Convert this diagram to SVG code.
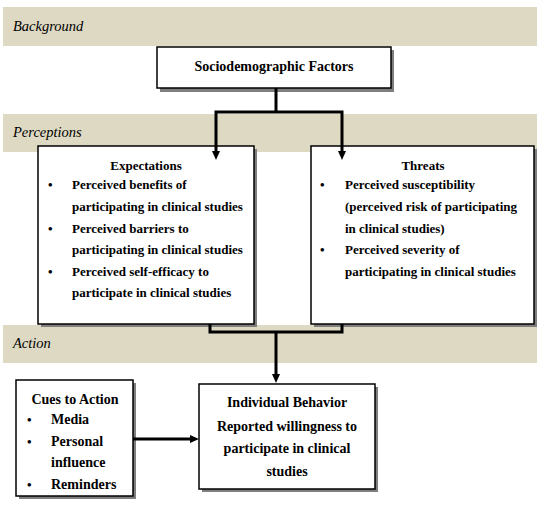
<svg xmlns="http://www.w3.org/2000/svg" width="550" height="506" viewBox="0 0 550 506">
<style>
.band{fill:#ddd9c3}
.shadow{fill:#7f7f7f}
.box{fill:#fff;stroke:#000;stroke-width:1.5}
text{font-family:"Liberation Serif","Times New Roman",serif;fill:#000}
.t{font-weight:bold;font-size:13px}
.h{font-weight:bold;font-size:14px}
.c{text-anchor:middle}
.lbl{font-style:italic;font-size:14.5px}
.conn{fill:none;stroke:#000;stroke-width:3}
</style>
<defs>
<marker id="arr" markerUnits="userSpaceOnUse" markerWidth="9" markerHeight="8" viewBox="0 0 9 8" refX="2" refY="4" orient="auto">
<path d="M0,0 L9,4 L0,8 z" fill="#000"/>
</marker>
</defs>
<rect width="550" height="506" fill="#fff"/>
<g id="bands">
<rect class="band" x="3" y="7" width="534" height="39"/>
<rect class="band" x="3" y="114" width="534" height="38"/>
<rect class="band" x="3" y="325" width="534" height="38"/>
<text class="lbl" x="13" y="31">Background</text>
<text class="lbl" x="13" y="137">Perceptions</text>
<text class="lbl" x="13" y="348">Action</text>
</g>
<g id="socio">
<rect class="shadow" x="160" y="50" width="234" height="42"/>
<rect class="box" x="157" y="47" width="234" height="41"/>
<text class="h c" x="274" y="71">Sociodemographic Factors</text>
</g>
<g id="expectations">
<rect class="shadow" x="41" y="149" width="216" height="178"/>
<rect class="box" x="38" y="146" width="216" height="178"/>
<text class="t c" x="146" y="170">Expectations</text>
<text class="t" x="48" y="189">•</text>
<text class="t" x="72" y="189">Perceived benefits of</text>
<text class="t" x="72" y="211">participating in clinical studies</text>
<text class="t" x="48" y="233">•</text>
<text class="t" x="72" y="233">Perceived barriers to</text>
<text class="t" x="72" y="254">participating in clinical studies</text>
<text class="t" x="48" y="276">•</text>
<text class="t" x="72" y="276">Perceived self-efficacy to</text>
<text class="t" x="72" y="297">participate in clinical studies</text>
</g>
<g id="threats">
<rect class="shadow" x="314" y="149" width="223" height="178"/>
<rect class="box" x="311" y="146" width="223" height="178"/>
<text class="t c" x="423" y="170">Threats</text>
<text class="t" x="320" y="189">•</text>
<text class="t" x="345" y="189">Perceived susceptibility</text>
<text class="t" x="345" y="211">(perceived risk of participating</text>
<text class="t" x="345" y="233">in clinical studies)</text>
<text class="t" x="320" y="254">•</text>
<text class="t" x="345" y="254">Perceived severity of</text>
<text class="t" x="345" y="276">participating in clinical studies</text>
</g>
<g id="cues">
<rect class="shadow" x="19" y="383" width="117" height="116"/>
<rect class="box" x="16" y="380" width="117" height="116"/>
<text class="h c" x="75" y="404">Cues to Action</text>
<text class="t" x="27" y="424">•</text>
<text class="h" x="51" y="424">Media</text>
<text class="t" x="27" y="446">•</text>
<text class="h" x="51" y="446">Personal</text>
<text class="h" x="51" y="467">influence</text>
<text class="t" x="27" y="489">•</text>
<text class="h" x="51" y="489">Reminders</text>
</g>
<g id="behavior">
<rect class="shadow" x="202" y="387" width="176" height="105"/>
<rect class="box" x="199" y="384" width="176" height="105"/>
<text class="h c" x="287" y="407">Individual Behavior</text>
<text class="h c" x="287" y="431">Reported willingness to</text>
<text class="h c" x="287" y="453">participate in clinical</text>
<text class="h c" x="287" y="476">studies</text>
</g>
<g id="connectors">
<path class="conn" d="M276,88 V112"/>
<path class="conn" d="M276,112 H216 V153" marker-end="url(#arr)"/>
<path class="conn" d="M276,112 H342 V153" marker-end="url(#arr)"/>
<path class="conn" d="M210,324 V332 H342 V324"/>
<path class="conn" d="M276,332 V376" marker-end="url(#arr)"/>
<path class="conn" d="M133,439 H192" marker-end="url(#arr)"/>
</g>
</svg>
